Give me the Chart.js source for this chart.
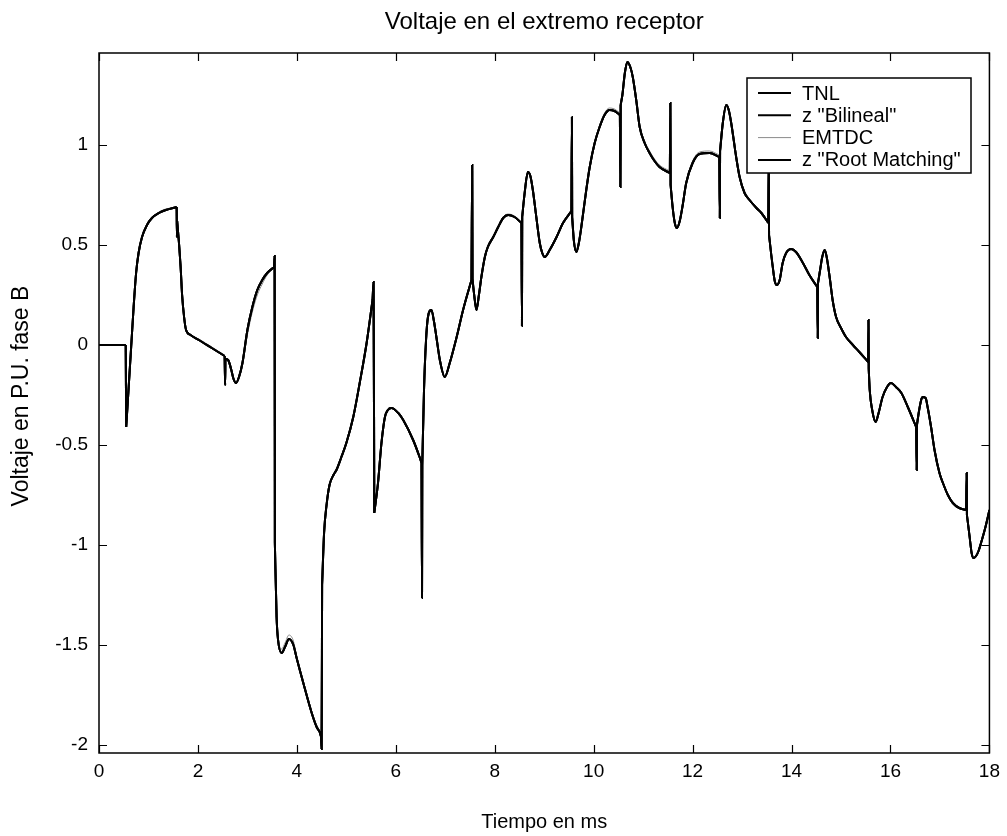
<!DOCTYPE html>
<html>
<head>
<meta charset="utf-8">
<script src="https://cdn.jsdelivr.net/npm/chart.js@4.4.1/dist/chart.umd.min.js"></script>
<style>
  html, body { margin: 0; padding: 0; background: #fff; }
  #chart { display: block; }
</style>
</head>
<body>
<canvas id="chart" width="1007" height="836"></canvas>
<script>
// tiempo en ms; null separa tramos suaves de los picos de reflexion
const tiempo = [
    0, 0.54, null,
    0.54, 0.55, null,
    0.55, 0.60, 0.65, 0.70, 0.75, 0.80, 0.87, 0.97, 1.07, 1.21, 1.35, 1.57, null,
    1.57, 1.575, 1.58, null,
    1.58, 1.62, 1.65, 1.68, 1.72, 1.76, 1.85, 2.02, 2.28, 2.54, null,
    2.54, 2.55, 2.555, null,
    2.555, 2.61, 2.67, 2.72, 2.77, 2.83, 2.90, 3.00, 3.10, 3.20, 3.30, 3.40, 3.54, null,
    3.54, 3.55, 3.555, null,
    3.555, 3.59, 3.62, 3.69, 3.76, 3.84, 3.93, 3.99, 4.13, 4.30, 4.40, 4.46, 4.49, null,
    4.49, 4.50, 4.51, null,
    4.51, 4.55, 4.60, 4.66, 4.74, 4.80, 4.90, 5.00, 5.14, 5.27, 5.41, 5.53, null,
    5.53, 5.55, 5.565, null,
    5.565, 5.64, 5.71, 5.78, 5.84, 5.91, 6.05, 6.15, 6.35, 6.48, 6.52, null,
    6.52, 6.53, 6.535, null,
    6.535, 6.57, 6.61, 6.65, 6.72, 6.77, 6.82, 6.89, 6.99, 7.09, 7.23, 7.36, 7.53, null,
    7.53, 7.545, 7.55, null,
    7.55, 7.58, 7.63, 7.68, 7.73, 7.80, 7.86, 7.97, 8.07, 8.17, 8.27, 8.40, 8.54, null,
    8.54, 8.55, 8.555, null,
    8.555, 8.60, 8.67, 8.72, 8.77, 8.84, 8.91, 8.96, 9.01, 9.11, 9.25, 9.38, 9.55, null,
    9.55, 9.56, 9.565, null,
    9.565, 9.60, 9.65, 9.70, 9.75, 9.85, 9.92, 10.02, 10.12, 10.22, 10.32, 10.42, 10.53, null,
    10.53, 10.54, 10.545, null,
    10.545, 10.58, 10.63, 10.68, 10.74, 10.79, 10.86, 10.93, 11.03, 11.13, 11.23, 11.33, 11.54, null,
    11.54, 11.55, 11.555, null,
    11.555, 11.60, 11.64, 11.68, 11.74, 11.80, 11.87, 12.00, 12.14, 12.34, 12.54, null,
    12.54, 12.55, 12.555, null,
    12.555, 12.61, 12.68, 12.73, 12.78, 12.88, 12.95, 13.05, 13.15, 13.29, 13.39, 13.53, null,
    13.53, 13.54, 13.545, null,
    13.545, 13.59, 13.62, 13.66, 13.70, 13.76, 13.82, 13.89, 13.99, 14.09, 14.23, 14.36, 14.52, null,
    14.52, 14.53, 14.535, null,
    14.535, 14.58, 14.62, 14.67, 14.71, 14.77, 14.83, 14.90, 15.00, 15.10, 15.24, 15.37, 15.55, null,
    15.55, 15.555, 15.56, null,
    15.56, 15.58, 15.63, 15.70, 15.76, 15.84, 15.93, 16.01, 16.11, 16.22, 16.35, 16.52, null,
    16.52, 16.53, 16.535, null,
    16.535, 16.57, 16.62, 16.65, 16.71, 16.75, 16.82, 16.89, 16.99, 17.06, 17.16, 17.26, 17.39, 17.53, null,
    17.53, 17.54, 17.545, null,
    17.545, 17.60, 17.64, 17.68, 17.73, 17.78, 17.83, 17.92, 18.00
];

// voltaje en p.u., fase B (modelo TNL)
const vTNL = [
    0, 0, null,
    0, -0.41, null,
    -0.41, -0.21, -0.01, 0.19, 0.36, 0.46, 0.54, 0.60, 0.635, 0.66, 0.675, 0.69, null,
    0.69, 0.54, 0.62, null,
    0.62, 0.50, 0.39, 0.25, 0.14, 0.075, 0.05, 0.025, -0.015, -0.055, null,
    -0.055, -0.20, -0.07, null,
    -0.07, -0.075, -0.12, -0.17, -0.19, -0.16, -0.09, 0.075, 0.19, 0.275, 0.325, 0.36, 0.39, null,
    0.39, 0.445, -0.99, null,
    -0.99, -1.36, -1.475, -1.54, -1.51, -1.47, -1.50, -1.56, -1.69, -1.84, -1.91, -1.935, -1.96, null,
    -1.96, -2.02, -1.20, null,
    -1.20, -0.94, -0.80, -0.70, -0.65, -0.625, -0.56, -0.49, -0.36, -0.19, 0.01, 0.225, null,
    0.225, 0.315, -0.84, null,
    -0.84, -0.69, -0.49, -0.36, -0.325, -0.315, -0.34, -0.375, -0.475, -0.56, -0.59, null,
    -0.59, -1.265, -0.60, null,
    -0.60, -0.225, 0.02, 0.14, 0.175, 0.12, 0.04, -0.075, -0.16, -0.09, 0.04, 0.175, 0.325, null,
    0.325, 0.90, 0.33, null,
    0.33, 0.26, 0.175, 0.25, 0.34, 0.44, 0.49, 0.54, 0.59, 0.635, 0.65, 0.64, 0.61, null,
    0.61, 0.095, 0.64, null,
    0.64, 0.75, 0.865, 0.845, 0.775, 0.64, 0.51, 0.46, 0.44, 0.475, 0.54, 0.61, 0.67, null,
    0.67, 1.14, 0.64, null,
    0.64, 0.52, 0.465, 0.51, 0.59, 0.775, 0.89, 1.01, 1.09, 1.15, 1.175, 1.17, 1.15, null,
    1.15, 0.79, 1.20, null,
    1.20, 1.25, 1.36, 1.415, 1.39, 1.34, 1.225, 1.09, 1.01, 0.96, 0.92, 0.89, 0.86, null,
    0.86, 1.21, 0.80, null,
    0.80, 0.68, 0.61, 0.585, 0.62, 0.70, 0.81, 0.91, 0.955, 0.96, 0.94, null,
    0.94, 0.635, 0.97, null,
    0.97, 1.11, 1.20, 1.175, 1.11, 0.94, 0.84, 0.76, 0.725, 0.685, 0.66, 0.61, null,
    0.61, 0.95, 0.55, null,
    0.55, 0.45, 0.39, 0.32, 0.30, 0.325, 0.41, 0.46, 0.48, 0.465, 0.41, 0.35, 0.29, null,
    0.29, 0.035, 0.31, null,
    0.31, 0.38, 0.44, 0.475, 0.44, 0.34, 0.225, 0.14, 0.085, 0.04, 0.0, -0.035, -0.085, null,
    -0.085, 0.125, -0.12, null,
    -0.12, -0.225, -0.325, -0.385, -0.34, -0.26, -0.21, -0.19, -0.21, -0.24, -0.31, -0.41, null,
    -0.41, -0.625, -0.40, null,
    -0.40, -0.34, -0.275, -0.26, -0.265, -0.31, -0.41, -0.525, -0.64, -0.69, -0.75, -0.79, -0.815, -0.825, null,
    -0.825, -0.64, -0.85, null,
    -0.85, -0.96, -1.04, -1.065, -1.055, -1.03, -0.99, -0.91, -0.825
];

// EMTDC: traza gris, casi encima de las otras
const vEMTDC = [
    0, 0, null,
    0, -0.40, null,
    -0.40, -0.22, -0.02, 0.18, 0.35, 0.455, 0.535, 0.60, 0.635, 0.665, 0.68, 0.69, null,
    0.69, 0.56, 0.62, null,
    0.62, 0.50, 0.40, 0.26, 0.145, 0.08, 0.05, 0.03, -0.01, -0.05, null,
    -0.05, -0.18, -0.07, null,
    -0.07, -0.08, -0.12, -0.165, -0.185, -0.165, -0.10, 0.05, 0.165, 0.25, 0.305, 0.35, 0.385, null,
    0.385, 0.43, -0.97, null,
    -0.97, -1.35, -1.46, -1.52, -1.49, -1.45, -1.48, -1.55, -1.68, -1.83, -1.90, -1.93, -1.95, null,
    -1.95, -2.00, -1.22, null,
    -1.22, -0.95, -0.80, -0.70, -0.65, -0.625, -0.56, -0.49, -0.36, -0.19, 0.01, 0.22, null,
    0.22, 0.30, -0.82, null,
    -0.82, -0.69, -0.49, -0.36, -0.325, -0.315, -0.34, -0.375, -0.475, -0.56, -0.59, null,
    -0.59, -1.24, -0.60, null,
    -0.60, -0.23, 0.02, 0.13, 0.17, 0.12, 0.04, -0.07, -0.155, -0.09, 0.04, 0.175, 0.32, null,
    0.32, 0.88, 0.33, null,
    0.33, 0.26, 0.18, 0.25, 0.34, 0.44, 0.49, 0.545, 0.595, 0.64, 0.655, 0.645, 0.615, null,
    0.615, 0.11, 0.64, null,
    0.64, 0.75, 0.86, 0.845, 0.775, 0.645, 0.515, 0.465, 0.445, 0.475, 0.54, 0.61, 0.67, null,
    0.67, 1.12, 0.64, null,
    0.64, 0.525, 0.47, 0.51, 0.59, 0.775, 0.89, 1.015, 1.10, 1.16, 1.185, 1.18, 1.16, null,
    1.16, 0.80, 1.20, null,
    1.20, 1.25, 1.355, 1.41, 1.39, 1.34, 1.23, 1.10, 1.02, 0.97, 0.93, 0.90, 0.87, null,
    0.87, 1.19, 0.80, null,
    0.80, 0.68, 0.615, 0.59, 0.625, 0.705, 0.815, 0.92, 0.965, 0.97, 0.95, null,
    0.95, 0.65, 0.97, null,
    0.97, 1.11, 1.19, 1.17, 1.11, 0.945, 0.845, 0.765, 0.73, 0.69, 0.665, 0.615, null,
    0.615, 0.93, 0.55, null,
    0.55, 0.45, 0.39, 0.325, 0.305, 0.33, 0.41, 0.46, 0.48, 0.465, 0.41, 0.35, 0.29, null,
    0.29, 0.05, 0.31, null,
    0.31, 0.38, 0.44, 0.47, 0.44, 0.34, 0.225, 0.14, 0.085, 0.04, 0.0, -0.03, -0.08, null,
    -0.08, 0.11, -0.12, null,
    -0.12, -0.225, -0.32, -0.38, -0.34, -0.26, -0.21, -0.19, -0.21, -0.24, -0.31, -0.41, null,
    -0.41, -0.61, -0.40, null,
    -0.40, -0.34, -0.275, -0.26, -0.265, -0.31, -0.41, -0.52, -0.64, -0.69, -0.75, -0.79, -0.815, -0.82, null,
    -0.82, -0.66, -0.85, null,
    -0.85, -0.96, -1.035, -1.06, -1.05, -1.03, -0.99, -0.91, -0.825
];

// las dos discretizaciones en z coinciden con TNL a la escala del dibujo
const vBilineal = vTNL;
const vRootMatching = vTNL;

const xTicks = [0, 2, 4, 6, 8, 10, 12, 14, 16, 18];
const yTicks = [-2, -1.5, -1, -0.5, 0, 0.5, 1];

const FONT = "'Liberation Sans', Arial, sans-serif";

function puntos(v) {
    return tiempo.map((t, i) => ({ x: t === null ? tiempo[i - 1] : t, y: v[i] }));
}

function serie(label, v, color, width) {
    return {
        label: label,
        data: puntos(v),
        borderColor: color,
        borderWidth: width,
        pointRadius: 0,
        cubicInterpolationMode: "monotone",
        spanGaps: false,
        fill: false,
    };
}

// marco, marcas hacia dentro, leyenda y textos al estilo MATLAB
const marco = {
    id: "marco",
    afterDatasetsDraw(chart) {
        const ctx = chart.ctx;
        const a = chart.chartArea;
        const sx = chart.scales.x;
        const sy = chart.scales.y;
        ctx.save();
        ctx.strokeStyle = "#000";
        ctx.lineWidth = 1.5;
        ctx.strokeRect(a.left, a.top, a.right - a.left, a.bottom - a.top);

        ctx.lineWidth = 1.2;
        ctx.beginPath();
        const tl = 8;
        xTicks.forEach((t) => {
            const px = Math.round(sx.getPixelForValue(t)) + 0.5;
            ctx.moveTo(px, a.bottom);
            ctx.lineTo(px, a.bottom - tl);
            ctx.moveTo(px, a.top);
            ctx.lineTo(px, a.top + tl);
        });
        yTicks.forEach((v) => {
            const py = Math.round(sy.getPixelForValue(v)) + 0.5;
            ctx.moveTo(a.left, py);
            ctx.lineTo(a.left + tl, py);
            ctx.moveTo(a.right, py);
            ctx.lineTo(a.right - tl, py);
        });
        ctx.stroke();

        // leyenda
        const box = { x: 747, y: 78, w: 224, h: 95 };
        ctx.fillStyle = "#fff";
        ctx.fillRect(box.x, box.y, box.w, box.h);
        ctx.lineWidth = 1.5;
        ctx.strokeRect(box.x, box.y, box.w, box.h);
        ctx.font = "20px " + FONT;
        ctx.textBaseline = "middle";
        ctx.textAlign = "left";
        chart.data.datasets.forEach((ds, i) => {
            const yy = box.y + 15 + i * 22.3;
            ctx.strokeStyle = ds.borderColor;
            ctx.lineWidth = ds.borderWidth;
            ctx.beginPath();
            ctx.moveTo(758, yy);
            ctx.lineTo(791, yy);
            ctx.stroke();
            ctx.fillStyle = "#000";
            ctx.fillText(ds.label, 802, yy + 1);
        });
        ctx.restore();
    },
    afterDraw(chart) {
        const ctx = chart.ctx;
        const a = chart.chartArea;
        const cx = (a.left + a.right) / 2;
        ctx.save();
        ctx.fillStyle = "#000";
        ctx.textAlign = "center";
        ctx.textBaseline = "middle";
        ctx.font = "24px " + FONT;
        ctx.fillText("Voltaje en el extremo receptor", cx, 22);
        ctx.font = "20px " + FONT;
        ctx.fillText("Tiempo en ms", cx, 822);
        ctx.font = "23px " + FONT;
        ctx.translate(22, 396);
        ctx.rotate(-Math.PI / 2);
        ctx.fillText("Voltaje en P.U. fase B", 0, 0);
        ctx.restore();
    },
};

function initChart() {
    const ctx = document.getElementById("chart").getContext("2d");
    new Chart(ctx, {
        type: "line",
        data: {
            datasets: [
                serie("TNL", vTNL, "#000", 2),
                serie('z "Bilineal"', vBilineal, "#000", 2),
                serie("EMTDC", vEMTDC, "#8a8a8a", 1),
                serie('z "Root Matching"', vRootMatching, "#000", 2),
            ],
        },
        options: {
            responsive: false,
            animation: false,
            devicePixelRatio: 1,
            layout: { padding: { top: 53, right: 17, left: 0, bottom: 0 } },
            plugins: {
                legend: { display: false },
                tooltip: { enabled: false },
                title: { display: false },
            },
            scales: {
                x: {
                    type: "linear",
                    min: 0,
                    max: 18,
                    grid: { display: false, drawTicks: false },
                    border: { display: false },
                    afterBuildTicks: (s) => { s.ticks = xTicks.map((v) => ({ value: v })); },
                    afterFit: (s) => { s.height = 83; },
                    ticks: { color: "#000", padding: 7, maxRotation: 0, font: { family: FONT, size: 19 } },
                },
                y: {
                    type: "linear",
                    min: -2.04,
                    max: 1.46,
                    grid: { display: false, drawTicks: false },
                    border: { display: false },
                    afterBuildTicks: (s) => { s.ticks = yTicks.map((v) => ({ value: v })); },
                    afterFit: (s) => { s.width = 99; },
                    ticks: {
                        color: "#000",
                        padding: 11,
                        font: { family: FONT, size: 19 },
                        callback: (v) => String(v),
                    },
                },
            },
        },
        plugins: [marco],
    });
}

document.addEventListener("DOMContentLoaded", initChart);
</script>
</body>
</html>
